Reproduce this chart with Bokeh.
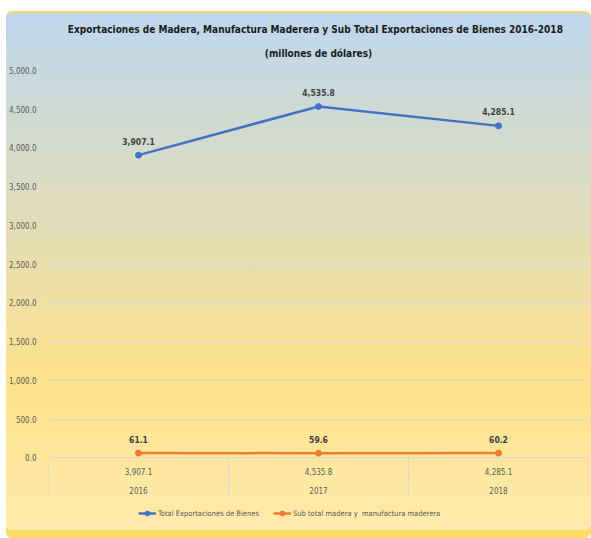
from bokeh.plotting import figure
from bokeh.models import (Range1d, FixedTicker, NumeralTickFormatter, Legend, LegendItem, Title)
from bokeh.core.properties import value
from bokeh.embed import file_html
from bokeh.resources import INLINE

# ---- data ----
years = ["2016", "2017", "2018"]
total_bienes = [3907.1, 4535.8, 4285.1]
madera = [61.1, 59.6, 60.2]
y_ticks = [0, 500, 1000, 1500, 2000, 2500, 3000, 3500, 4000, 4500, 5000]
series_names = ["Total Exportaciones de Bienes", "Sub total madera y  manufactura maderera"]
title_main = "Exportaciones de  Madera, Manufactura Maderera  y Sub Total Exportaciones de Bienes 2016-2018"
title_sub = "(millones de dólares)"

FONT = "DejaVu Sans Condensed"
BLUE = "#4472C4"
ORANGE = "#ED7D31"
GRID = "#D9D9D9"
LABEL = "#595959"

xs = [i + 1 for i in range(len(years))]
bounds = [i + 0.5 for i in range(len(years) + 1)]
y_top = y_ticks[-1]
table_bottom = -510   # data-table area under the zero line
y_bottom = -913       # room for the legend at the bottom of the frame

p = figure(width=585, height=519, output_backend="svg", toolbar_location=None,
           x_range=Range1d(bounds[0], bounds[-1]), y_range=Range1d(y_bottom, y_top),
           min_border_left=40, min_border_right=3, min_border_top=59, min_border_bottom=2)
p.margin = (11, 0, 0, 6)
p.background_fill_alpha = 0
p.border_fill_alpha = 0
p.outline_line_color = None
p.styles = {
    "background": "linear-gradient(to bottom, #BDD7EE 0%, #DCDCC0 35%, #FFE28A 72%, #FFEBAE 100%)",
    "box-shadow": "inset 0 2px 0 #FFD966, 0 8px 0 #FFD966",
    "border-radius": "6px",
}

# titles (first added sits closest to the plot)
p.add_layout(Title(text=title_sub, align="center", text_font=FONT, text_font_size="10px",
                   text_font_style="bold", text_color="#1a1a1a", standoff=23), "above")
p.add_layout(Title(text=title_main, align="center", text_font=FONT, text_font_size="10px",
                   text_font_style="bold", text_color="#1a1a1a", standoff=0), "above")

# axes
p.xaxis.visible = False
p.xgrid.visible = False
p.yaxis.ticker = FixedTicker(ticks=y_ticks)
p.yaxis.formatter = NumeralTickFormatter(format="0,0.0")
p.yaxis.axis_line_color = None
p.yaxis.major_tick_line_color = None
p.yaxis.minor_tick_line_color = None
p.yaxis.major_label_text_font = FONT
p.yaxis.major_label_text_font_size = "8px"
p.yaxis.major_label_text_color = LABEL
p.yaxis.major_label_standoff = 6
p.ygrid.ticker = FixedTicker(ticks=y_ticks)
p.ygrid.grid_line_color = GRID
p.ygrid.grid_line_width = 1

# data table under the chart
p.segment(x0=bounds, y0=[0] * len(bounds), x1=bounds, y1=[table_bottom] * len(bounds),
          line_color=GRID, line_width=1.2)
p.text(x=xs, y=[0] * len(xs), text=[f"{v:,.1f}" for v in total_bienes], y_offset=14,
       text_align="center", text_baseline="middle", text_font=value(FONT),
       text_font_size="8px", text_color=LABEL)
p.text(x=xs, y=[0] * len(xs), text=years, y_offset=33,
       text_align="center", text_baseline="middle", text_font=value(FONT),
       text_font_size="8px", text_color=LABEL)

# series
l1 = p.line(xs, total_bienes, line_color=BLUE, line_width=2.5)
s1 = p.scatter(xs, total_bienes, size=6, fill_color=BLUE, line_color=BLUE)
l2 = p.line(xs, madera, line_color=ORANGE, line_width=2.5)
s2 = p.scatter(xs, madera, size=6, fill_color=ORANGE, line_color=ORANGE)

# data labels
p.text(x=xs, y=total_bienes, text=[f"{v:,.1f}" for v in total_bienes], y_offset=-14,
       text_align="center", text_baseline="middle", text_font=value(FONT),
       text_font_size="8.5px", text_font_style="bold", text_color="#404040")
p.text(x=xs, y=madera, text=[f"{v:,.1f}" for v in madera], y_offset=-14,
       text_align="center", text_baseline="middle", text_font=value(FONT),
       text_font_size="8.5px", text_font_style="bold", text_color="#404040")

legend = Legend(items=[LegendItem(label=series_names[0], renderers=[l1, s1]),
                       LegendItem(label=series_names[1], renderers=[l2, s2])],
                orientation="horizontal", location=(90, 9),
                background_fill_alpha=0, border_line_color=None,
                label_text_font=FONT, label_text_font_size="7.5px", label_text_color=LABEL,
                glyph_width=18, glyph_height=12, label_height=12, spacing=14, padding=2, margin=0,
                label_standoff=2)
p.add_layout(legend)

open("out.html", "w").write(file_html(p, INLINE))
